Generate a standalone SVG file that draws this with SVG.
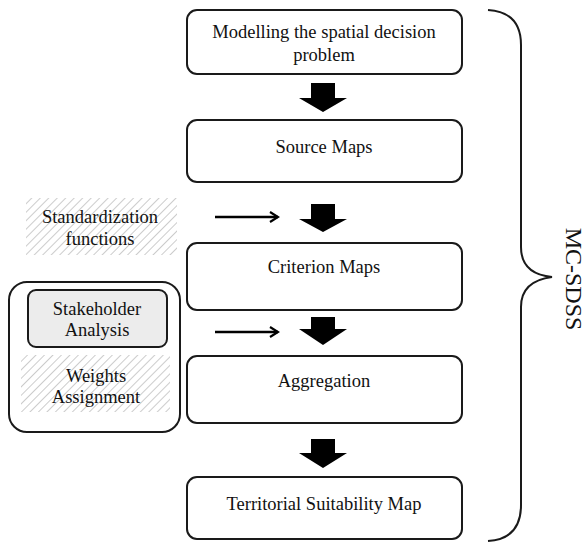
<svg xmlns="http://www.w3.org/2000/svg" width="587" height="543" viewBox="0 0 587 543">
<style>
.box{fill:#fff;stroke:#1a1a1a;stroke-width:2}
.t{font-family:"Liberation Serif","Times New Roman",serif;font-size:18.5px;fill:#111;text-anchor:middle}
.big{fill:#000}
.thin{stroke:#000;stroke-width:2.5;fill:none}
.hatch{fill:url(#hatch)}
</style>
<defs>
<pattern id="hatch" patternUnits="userSpaceOnUse" width="6" height="6" patternTransform="rotate(45)">
<line x1="0" y1="0" x2="0" y2="6" stroke="#999" stroke-width="1"/>
</pattern>
<marker id="open" viewBox="0 0 12 12" refX="10" refY="6" markerWidth="12" markerHeight="12" markerUnits="userSpaceOnUse" orient="auto">
<path d="M2,1 L10,6 L2,11" fill="none" stroke="#000" stroke-width="2.2"/>
</marker>
</defs>
<rect width="587" height="543" fill="#fff"/>
<g id="connectors">
<path class="big" d="M311,83 H335 V98 H347 L323,112 L299,98 H311 Z"/>
<path class="big" d="M311,204 H335 V219 H347 L323,232 L299,219 H311 Z"/>
<path class="big" d="M311,317 H335 V329 H347 L323,345 L299,329 H311 Z"/>
<path class="big" d="M311,439 H335 V453 H347 L323,468 L299,453 H311 Z"/>
<line class="thin" x1="215" y1="217" x2="278" y2="217" marker-end="url(#open)"/>
<line class="thin" x1="215" y1="332" x2="278" y2="332" marker-end="url(#open)"/>
</g>
<g id="n1"><rect class="box" x="187" y="10" width="275" height="64" rx="10"/><text class="t" x="324" y="38">Modelling the spatial decision</text><text class="t" x="324" y="61">problem</text></g>
<g id="n2"><rect class="box" x="187" y="120" width="275" height="62" rx="10"/><text class="t" x="324" y="153">Source Maps</text></g>
<g id="n3"><rect class="box" x="187" y="243" width="275" height="67" rx="10"/><text class="t" x="324" y="273">Criterion Maps</text></g>
<g id="n4"><rect class="box" x="187" y="356" width="275" height="67" rx="10"/><text class="t" x="324" y="387">Aggregation</text></g>
<g id="n5"><rect class="box" x="187" y="477" width="275" height="62" rx="10"/><text class="t" x="324" y="510">Territorial Suitability Map</text></g>
<g id="std"><rect class="hatch" x="26" y="198" width="151" height="57"/><text class="t" x="100" y="223">Standardization</text><text class="t" x="100" y="245">functions</text></g>
<g id="group"><rect class="box" x="9" y="282" width="171" height="150" rx="18"/></g>
<g id="stake"><rect x="28" y="290" width="139" height="57" rx="8" fill="#ececec" stroke="#1a1a1a" stroke-width="2"/><text class="t" x="97" y="315">Stakeholder</text><text class="t" x="97" y="336">Analysis</text></g>
<g id="weights"><rect class="hatch" x="21" y="355" width="149" height="57"/><text class="t" x="96" y="382">Weights</text><text class="t" x="96" y="403">Assignment</text></g>
<g id="brace"><path d="M488,10 Q521,12 521,45 V247 Q521,274 552,277 Q521,281 521,307 V505 Q521,539 488,541" fill="none" stroke="#1a1a1a" stroke-width="2"/><text class="t" transform="translate(566,279) rotate(90)" style="font-size:24px">MC-SDSS</text></g>
</svg>
